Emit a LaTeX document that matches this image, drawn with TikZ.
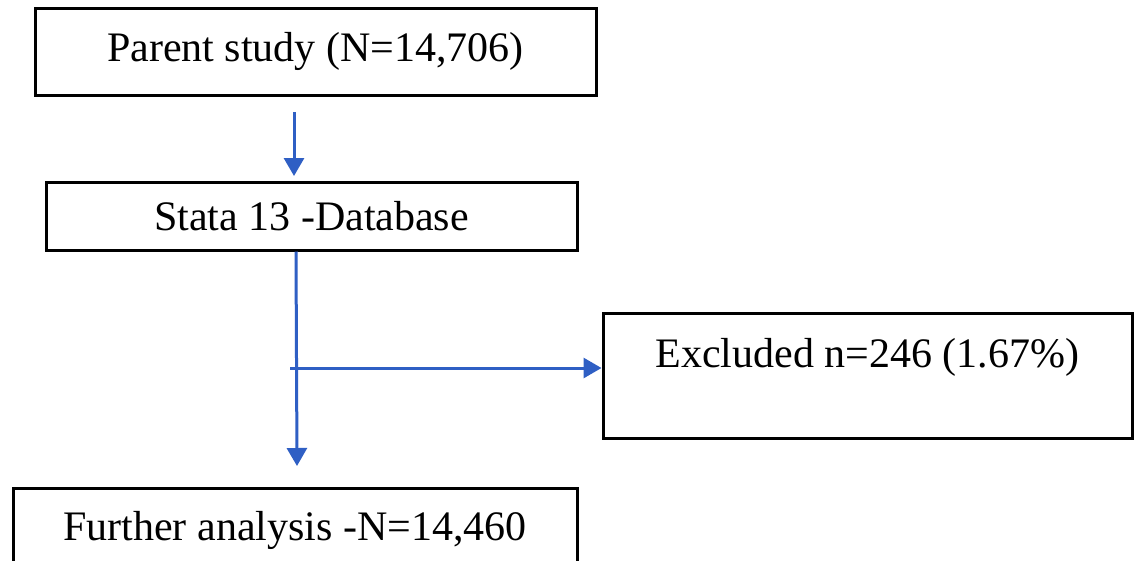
\documentclass[tikz,border=0pt]{standalone}
\usepackage{fontspec}
\setmainfont{Liberation Serif}
\usetikzlibrary{arrows.meta}
\definecolor{arrblue}{RGB}{47,95,196}
\tikzset{
  box/.style={draw=black, line width=3pt, rectangle, inner sep=0pt, font=\fontsize{42}{50}\selectfont},
  lbl/.style={inner sep=0pt, font=\fontsize{42}{50}\selectfont},
  arr/.style={draw=arrblue, line width=3pt, -{Triangle[length=18pt,width=20pt]}},
}
\begin{document}
\begin{tikzpicture}[x=1pt,y=1pt]
\useasboundingbox (0,0) rectangle (1135,-560);
\fill[white] (0,0) rectangle (1135,-560);
\clip (0,0) rectangle (1135,-560);
\node[box, minimum width=561pt, minimum height=87pt] (box1) at (315.5,-51.5) {Parent study (N=14,706)};
\node[box, minimum width=531pt, minimum height=68pt] (box2) at (311.5,-216) {Stata 13 -Database};
\node[box, minimum width=529pt, minimum height=125pt] (box3) at (867.5,-375.5) {};
\node[lbl] (box3text) at (867.5,-357) {Excluded n=246 (1.67\%)};
\node[box, minimum width=564pt, minimum height=120pt] (box4) at (295,-548) {};
\node[lbl] (box4text) at (295,-530) {Further analysis -N=14,460};
\coordinate (a1s) at (294,-112);
\coordinate (a1e) at (294,-176);
\draw[arr] (a1s) -- (a1e);
\coordinate (v1) at (box2.south -| 296,0);
\coordinate (v2) at (297,-466);
\draw[arr] (v1) -- (v2);
\coordinate (h1) at (290,-368);
\draw[arr] (h1) -- (h1 -| box3.west);
\end{tikzpicture}
\end{document}
